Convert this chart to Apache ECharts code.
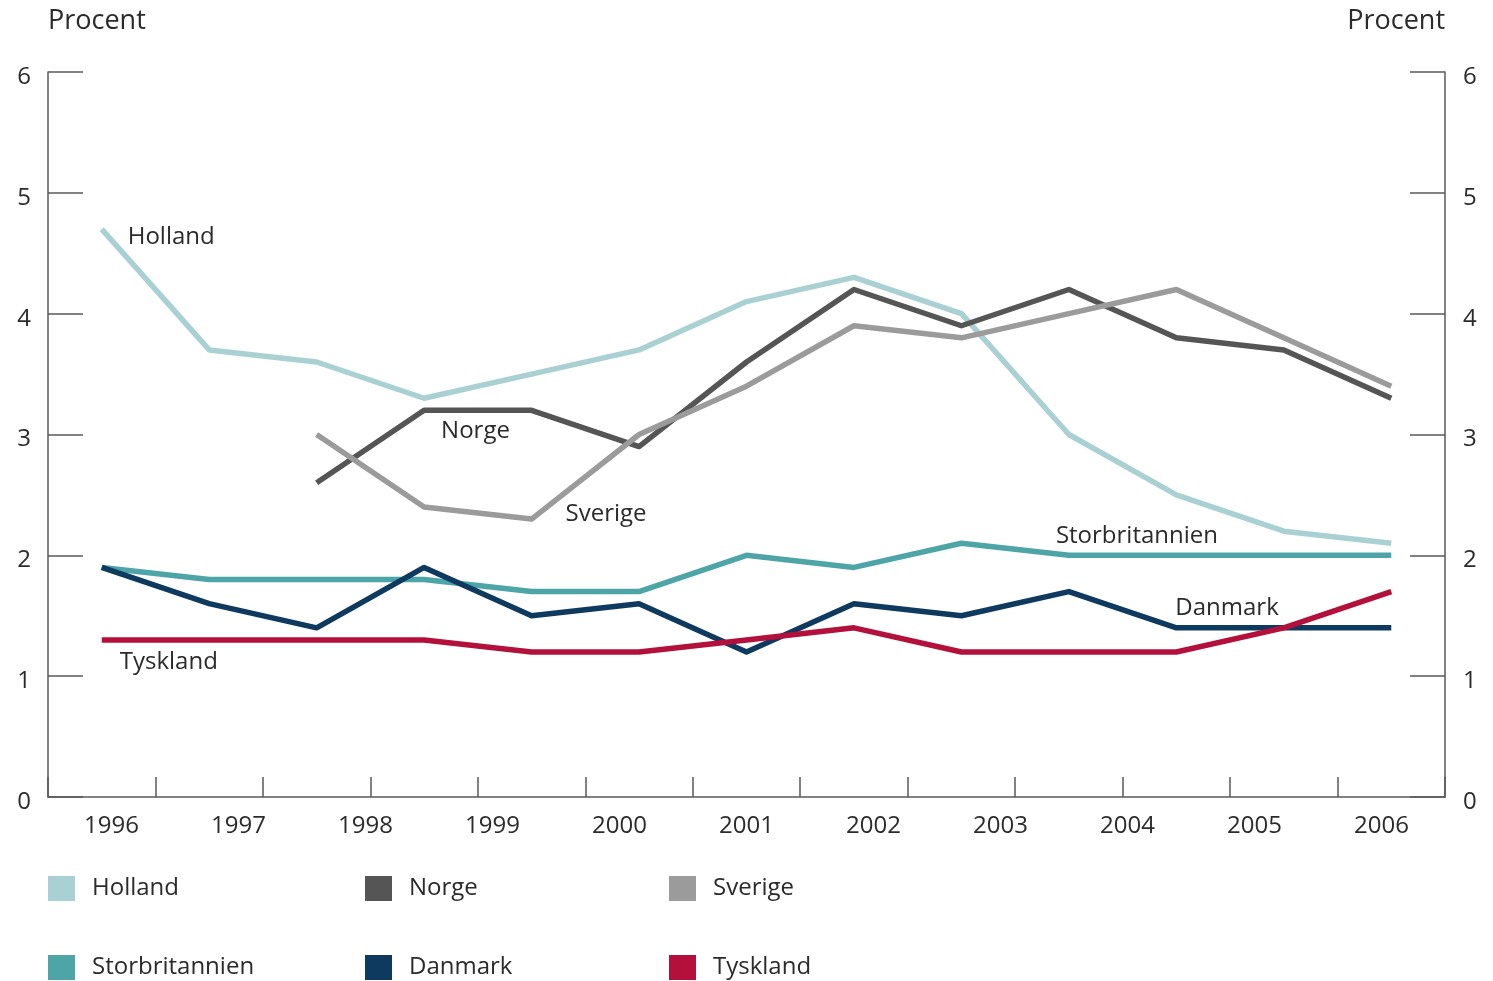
<!DOCTYPE html>
<html>
<head>
<meta charset="utf-8">
<script src="https://cdn.jsdelivr.net/npm/echarts@6/dist/echarts.min.js"></script>
<style>html,body{margin:0;padding:0;background:#fff}#c{width:1493px;height:981px}</style>
</head>
<body>
<div id="c"></div>
<script>
// 13 observation points spread across the 11 labelled years
const points = ['p0','p1','p2','p3','p4','p5','p6','p7','p8','p9','p10','p11','p12'];
const yearLabels = ['1996','1997','1998','1999','2000','2001','2002','2003','2004','2005','2006'];
const yTicks = [0,1,2,3,4,5,6];

const holland        = [4.7, 3.7, 3.6, 3.3, 3.5, 3.7, 4.1, 4.3, 4.0, 3.0, 2.5, 2.2, 2.1];
const norge          = [null, null, 2.6, 3.2, 3.2, 2.9, 3.6, 4.2, 3.9, 4.2, 3.8, 3.7, 3.3];
const sverige        = [null, null, 3.0, 2.4, 2.3, 3.0, 3.4, 3.9, 3.8, 4.0, 4.2, 3.8, 3.4];
const storbritannien = [1.9, 1.8, 1.8, 1.8, 1.7, 1.7, 2.0, 1.9, 2.1, 2.0, 2.0, 2.0, 2.0];
const danmark        = [1.9, 1.6, 1.4, 1.9, 1.5, 1.6, 1.2, 1.6, 1.5, 1.7, 1.4, 1.4, 1.4];
const tyskland       = [1.3, 1.3, 1.3, 1.3, 1.2, 1.2, 1.3, 1.4, 1.2, 1.2, 1.2, 1.4, 1.7];

const FONT = '"Open Sans", "Noto Sans", sans-serif';
const TXT = '#2b2b2b';
const AX = '#5a5a5a';
const FS = 24;

function lbl(idx, val, text, off){
  return {
    symbolSize: 0,
    data: [{coord: [idx, val], value: text}],
    label: {show: true, position: 'inside', align: 'left', verticalAlign: 'middle',
      offset: off, formatter: text, color: TXT, fontSize: FS, fontFamily: FONT}
  };
}

function line(name, data, color, mp){
  return {
    name, type: 'line', data, xAxisIndex: 0, yAxisIndex: 0,
    showSymbol: false, symbol: 'none', connectNulls: false,
    lineStyle: {color, width: 5.5, join: 'round'}, itemStyle: {color},
    markPoint: mp, z: 3, animation: false
  };
}

const chart = echarts.init(document.getElementById('c'), null, {renderer: 'canvas'});
const legendPos = [
  ['Holland', 48, 876], ['Norge', 365, 876], ['Sverige', 669, 876],
  ['Storbritannien', 48, 955], ['Danmark', 365, 955], ['Tyskland', 669, 955]
];
chart.setOption({
  animation: false,
  backgroundColor: '#fff',
  grid: {left: 48, right: 48, top: 72, bottom: 184, containLabel: false},
  legend: legendPos.map(([n, l, t]) => ({
    data: [n], left: l, top: t, icon: 'rect', itemWidth: 27, itemHeight: 25, itemGap: 0,
    textStyle: {color: TXT, fontSize: FS, fontFamily: FONT, padding: [0, 0, 0, 12]},
    selectedMode: false, padding: 0
  })),
  xAxis: [
    {type: 'category', data: points, boundaryGap: true, position: 'bottom',
     axisLine: {show: true, lineStyle: {color: AX, width: 1.5}},
     axisTick: {show: true, inside: true, length: 20, lineStyle: {color: AX, width: 1.5}},
     axisLabel: {show: false}, splitLine: {show: false}},
    {type: 'category', data: yearLabels, boundaryGap: true, position: 'bottom',
     axisLine: {show: false}, axisTick: {show: false}, splitLine: {show: false},
     axisLabel: {show: true, margin: 17, color: TXT, fontSize: FS, fontFamily: FONT}}
  ],
  yAxis: [
    {type: 'value', min: yTicks[0], max: yTicks[yTicks.length-1], interval: 1, position: 'left',
     name: 'Procent', nameLocation: 'end', nameGap: 37,
     nameTextStyle: {color: TXT, fontSize: 27, fontFamily: FONT, align: 'left'},
     axisLine: {show: true, lineStyle: {color: AX, width: 1.5}},
     axisTick: {show: true, inside: true, length: 35, lineStyle: {color: AX, width: 1.5}},
     axisLabel: {color: TXT, fontSize: FS, fontFamily: FONT, margin: 17, verticalAlign: 'top', lineHeight: 10},
     splitLine: {show: false}},
    {type: 'value', min: yTicks[0], max: yTicks[yTicks.length-1], interval: 1, position: 'right',
     name: 'Procent', nameLocation: 'end', nameGap: 37,
     nameTextStyle: {color: TXT, fontSize: 27, fontFamily: FONT, align: 'right'},
     axisLine: {show: true, lineStyle: {color: AX, width: 1.5}},
     axisTick: {show: true, inside: true, length: 35, lineStyle: {color: AX, width: 1.5}},
     axisLabel: {color: TXT, fontSize: FS, fontFamily: FONT, margin: 18, verticalAlign: 'top', lineHeight: 10},
     splitLine: {show: false}}
  ],
  series: [
    line('Holland', holland, '#a9d1d3', lbl(0, 4.7, 'Holland', [26, 8])),
    line('Norge', norge, '#555555', lbl(3, 3.2, 'Norge', [17, 21])),
    line('Sverige', sverige, '#9b9b9b', lbl(4, 2.3, 'Sverige', [34, -5])),
    line('Storbritannien', storbritannien, '#4ea5a8', lbl(9, 2.0, 'Storbritannien', [-13, -19])),
    line('Danmark', danmark, '#0e3a60', lbl(10, 1.4, 'Danmark', [-1, -20])),
    line('Tyskland', tyskland, '#b3103b', lbl(0, 1.3, 'Tyskland', [18, 22]))
  ]
});
</script>
</body>
</html>
